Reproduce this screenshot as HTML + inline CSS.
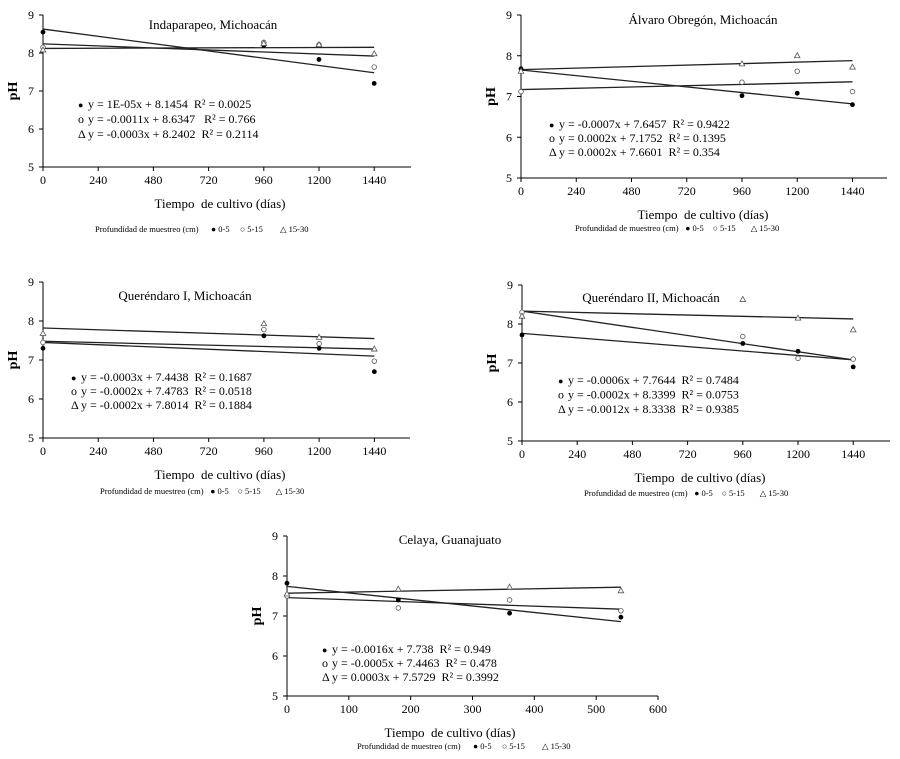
<!DOCTYPE html>
<html><head><meta charset="utf-8"><style>
body{margin:0;background:#fff;}
svg{display:block;font-family:"Liberation Serif",serif;}
svg text{white-space:pre;}
</style></head><body>
<svg id="fig" width="900" height="759" viewBox="0 0 900 759" xmlns="http://www.w3.org/2000/svg"></svg>
<script>
// Chart 1 Indaparapeo
const c1Days=[0,960,1200,1440];
const c1A=[8.55,8.2,7.83,7.2];
const c1B=[8.15,8.28,8.22,7.63];
const c1C=[8.08,8.25,8.22,7.98];
const c1LineStart=[8.63,8.24,8.12];
const c1LineEnd=[7.48,7.92,8.15];
const c1Eq=["y = 1E-05x + 8.1454  R² = 0.0025","y = -0.0011x + 8.6347   R² = 0.766","y = -0.0003x + 8.2402  R² = 0.2114"];
// Chart 2 Alvaro Obregon
const c2Days=[0,960,1200,1440];
const c2A=[7.68,7.02,7.08,6.8];
const c2B=[7.12,7.35,7.62,7.12];
const c2C=[7.62,7.8,8.0,7.72];
const c2LineStart=[7.65,7.17,7.66];
const c2LineEnd=[6.82,7.36,7.88];
const c2Eq=["y = -0.0007x + 7.6457  R² = 0.9422","y = 0.0002x + 7.1752  R² = 0.1395","y = 0.0002x + 7.6601  R² = 0.354"];
// Chart 3 Querendaro I
const c3Days=[0,960,1200,1440];
const c3A=[7.3,7.62,7.3,6.7];
const c3B=[7.45,7.78,7.42,6.97];
const c3C=[7.68,7.93,7.58,7.28];
const c3LineStart=[7.82,7.48,7.45];
const c3LineEnd=[7.55,7.28,7.1];
const c3Eq=["y = -0.0003x + 7.4438  R² = 0.1687","y = -0.0002x + 7.4783  R² = 0.0518","y = -0.0002x + 7.8014  R² = 0.1884"];
// Chart 4 Querendaro II
const c4Days=[0,960,1200,1440];
const c4A=[7.72,7.5,7.3,6.9];
const c4B=[8.3,7.68,7.12,7.1];
const c4C=[8.2,8.63,8.15,7.85];
const c4LineStart=[8.33,8.33,7.76];
const c4LineEnd=[8.13,7.08,7.08];
const c4Eq=["y = -0.0006x + 7.7644  R² = 0.7484","y = -0.0002x + 8.3399  R² = 0.0753","y = -0.0012x + 8.3338  R² = 0.9385"];
// Chart 5 Celaya
const c5Days=[0,180,360,540];
const c5A=[7.82,7.4,7.07,6.97];
const c5B=[7.5,7.2,7.4,7.13];
const c5C=[7.55,7.67,7.72,7.63];
const c5LineStart=[7.74,7.46,7.57];
const c5LineEnd=[6.86,7.17,7.72];
const c5Eq=["y = -0.0016x + 7.738  R² = 0.949","y = -0.0005x + 7.4463  R² = 0.478","y = 0.0003x + 7.5729  R² = 0.3992"];
const xTicksA=[0,240,480,720,960,1200,1440];
const xTicksB=[0,100,200,300,400,500,600];
const yTicks=[5,6,7,8,9];

const NS="http://www.w3.org/2000/svg";
const svg=document.getElementById('fig');
function mk(tag,attrs,parent,text){const e=document.createElementNS(NS,tag);for(const k in attrs)e.setAttribute(k,attrs[k]);if(text!==undefined)e.textContent=text;parent.appendChild(e);return e;}

function chart(cfg){
  const g=mk('g',{},svg);
  
  
  const X=v=>cfg.x0+(v-0)/cfg.xMax*(cfg.xEnd-cfg.x0);
  const Y=v=>cfg.yB+(v-5)/4*(cfg.yT-cfg.yB);
  const ax=mk('path',{d:`M${cfg.x0} ${cfg.yT}V${cfg.yB}H${cfg.xEnd}`,stroke:'#000','stroke-width':1,fill:'none'},g);
  
  
  yTicks.forEach(t=>{
    mk('line',{x1:cfg.x0-4,x2:cfg.x0,y1:Y(t),y2:Y(t),stroke:'#000'},g);
    const l=mk('text',{x:cfg.x0-9,y:Y(t)+4,'text-anchor':'end','font-size':12},g,t);
    
    
  });
  cfg.xt.forEach(t=>{
    mk('line',{x1:X(t),x2:X(t),y1:cfg.yB,y2:cfg.yB+4,stroke:'#000'},g);
    const l=mk('text',{x:X(t),y:cfg.yB+17,'text-anchor':'middle','font-size':12},g,t);
    
    
  });
  const ttl=mk('text',{x:cfg.tx,y:cfg.ty,'text-anchor':'middle','font-size':13},g,cfg.title);
  
  
  const yl=mk('text',{x:0,y:0,'text-anchor':'middle','font-size':14,'font-weight':'bold',transform:`translate(${cfg.x0-26},${(cfg.yT+cfg.yB)/2}) rotate(-90)`},g,'pH');
  
  
  const xl=mk('text',{x:cfg.xlx,y:cfg.yB+41,'text-anchor':'middle','font-size':13},g,'Tiempo  de cultivo (días)');
  
  
  const lEnd=cfg.xt===xTicksA?1440:540;
  cfg.ls.forEach((s,i)=>{
    const ln=mk('line',{x1:X(0),y1:Y(s),x2:X(lEnd),y2:Y(cfg.le[i]),stroke:'#222','stroke-width':1.3},g);
    
    
  });
  cfg.d.forEach((dd,i)=>{
    const px=X(dd);
    const p1=mk('circle',{cx:px,cy:Y(cfg.a[i]),r:2.4,fill:'#000'},g);
    
    
    const p2=mk('circle',{cx:px,cy:Y(cfg.b[i]),r:2.3,fill:'#fff',stroke:'#555','stroke-width':0.8},g);
    
    
    const cy=Y(cfg.c[i]);
    const p3=mk('path',{d:`M${px} ${cy-3}L${px+2.8} ${cy+2}L${px-2.8} ${cy+2}Z`,fill:'#fff',stroke:'#555','stroke-width':0.8},g);
    
    
  });
  const syms=['●','o','Δ'];
  cfg.eq.forEach((t,i)=>{
    const y=cfg.ey+i*cfg.es;
    mk('text',{x:cfg.ex-10,y:y,'font-size':i==0?9:12},g,syms[i]);
    const e=mk('text',{x:cfg.ex,y:y,'font-size':12},g,t);
    
    
  });
  const lg=mk('g',{'font-size':8.5},g);
  
  
  mk('text',{x:cfg.lx,y:cfg.ly},lg,'Profundidad de muestreo (cm)');
  mk('text',{x:cfg.lx+cfg.lw*116,y:cfg.ly},lg,'● 0-5');
  mk('text',{x:cfg.lx+cfg.lw*145,y:cfg.ly},lg,'○ 5-15');
  mk('text',{x:cfg.lx+cfg.lw*185,y:cfg.ly},lg,'△ 15-30');
}
chart({name:'chart-indaparapeo',title:'Indaparapeo, Michoacán',x0:43,xEnd:411,xMax:1600,yT:15,yB:167,xt:xTicksA,d:c1Days,a:c1A,b:c1B,c:c1C,ls:c1LineStart,le:c1LineEnd,eq:c1Eq,tx:213,ty:29,xlx:220,ex:88,ey:108,es:15,lx:95,ly:232,lw:1});
chart({name:'chart-alvaro-obregon',title:'Álvaro Obregón, Michoacán',x0:521,xEnd:887,xMax:1590,yT:15,yB:178,xt:xTicksA,d:c2Days,a:c2A,b:c2B,c:c2C,ls:c2LineStart,le:c2LineEnd,eq:c2Eq,tx:703,ty:24,xlx:703,ex:559,ey:128,es:14,lx:575,ly:231,lw:0.95});
chart({name:'chart-querendaro-1',title:'Queréndaro I, Michoacán',x0:43,xEnd:410,xMax:1595,yT:282,yB:438,xt:xTicksA,d:c3Days,a:c3A,b:c3B,c:c3C,ls:c3LineStart,le:c3LineEnd,eq:c3Eq,tx:185,ty:300,xlx:220,ex:81,ey:381,es:14,lx:100,ly:494,lw:0.95});
chart({name:'chart-querendaro-2',title:'Queréndaro II, Michoacán',x0:522,xEnd:890,xMax:1600,yT:285,yB:441,xt:xTicksA,d:c4Days,a:c4A,b:c4B,c:c4C,ls:c4LineStart,le:c4LineEnd,eq:c4Eq,tx:651,ty:302,xlx:700,ex:568,ey:384,es:14.5,lx:584,ly:496,lw:0.95});
chart({name:'chart-celaya',title:'Celaya, Guanajuato',x0:287,xEnd:658,xMax:600,yT:536,yB:696,xt:xTicksB,d:c5Days,a:c5A,b:c5B,c:c5C,ls:c5LineStart,le:c5LineEnd,eq:c5Eq,tx:450,ty:544,xlx:450,ex:332,ey:653,es:14,lx:357,ly:749,lw:1});
</script>
</body></html>
